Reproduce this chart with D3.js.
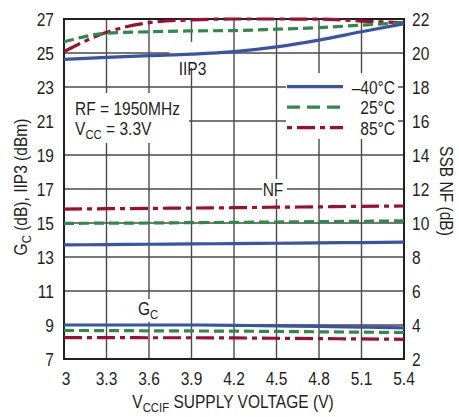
<!DOCTYPE html>
<html><head><meta charset="utf-8">
<script src="https://cdn.jsdelivr.net/npm/d3@7"></script>
<style>
html,body{margin:0;padding:0;background:#fff;}
svg{display:block;}
text{font-family:"Liberation Sans",Arial,sans-serif;fill:#231f20;}
</style></head>
<body>
<svg id="c" width="459" height="417"></svg>
<script>
// ---- data ----
const voltages = [3, 3.3, 3.6, 3.9, 4.2, 4.5, 4.8, 5.1, 5.4];
const xTickLabels = ["3", "3.3", "3.6", "3.9", "4.2", "4.5", "4.8", "5.1", "5.4"];
const leftTicks = [7, 9, 11, 13, 15, 17, 19, 21, 23, 25, 27];
const rightTicks = [2, 4, 6, 8, 10, 12, 14, 16, 18, 20, 22];
const temps = ["\u201340\u00b0C", "25\u00b0C", "85\u00b0C"];
// IIP3 (dBm), left axis
const iip3_m40 = [24.63, 24.74, 24.84, 24.93, 25.08, 25.36, 25.76, 26.25, 26.72];
const iip3_25  = [25.66, 26.16, 26.25, 26.3, 26.32, 26.4, 26.49, 26.64, 26.78];
const iip3_85  = [25.08, 26.22, 26.78, 26.95, 27.0, 27.0, 26.99, 26.88, 26.78];
// SSB NF (dB), right axis
const nf_m40 = [8.71, 8.73, 8.75, 8.77, 8.79, 8.81, 8.83, 8.85, 8.87];
const nf_25  = [9.98, 9.99, 10.0, 10.02, 10.04, 10.06, 10.08, 10.1, 10.13];
const nf_85  = [10.82, 10.84, 10.86, 10.88, 10.9, 10.93, 10.95, 10.98, 11.0];
// Gc (dB), left axis
const gc_m40 = [9.0, 9.0, 9.0, 9.0, 8.98, 8.95, 8.92, 8.88, 8.83];
const gc_25  = [8.68, 8.67, 8.66, 8.65, 8.64, 8.62, 8.6, 8.58, 8.56];
const gc_85  = [8.26, 8.26, 8.25, 8.25, 8.24, 8.22, 8.2, 8.18, 8.16];

const colors = ["#3a53a4", "#2f8a47", "#9b0f2f"];
const dashes = [null, "10,5", "18,5,5,5"];
const legendDashes = [null, "13,7", "5,5,18,5"];

const svg = d3.select("#c");
const L = 64, T = 19, W = 340, H = 340;
const x = d3.scaleLinear().domain([3, 5.4]).range([L, L + W]);
const yL = d3.scaleLinear().domain([7, 27]).range([T + H, T]);
const yR = d3.scaleLinear().domain([2, 22]).range([T + H, T]);
const SX = 0.84, fs = 18.5, subFs = 13.5;

// condensed text helper
function txt(px, py, anchor, rot) {
  return svg.append("text")
    .attr("transform", `translate(${px},${py})` + (rot ? ` rotate(${rot})` : "") + ` scale(${SX},1)`)
    .attr("text-anchor", anchor || "start").attr("font-size", fs);
}

svg.append("rect").attr("width", 459).attr("height", 417).attr("fill", "#fff");

// grid
const grid = svg.append("g").attr("stroke", "#4a4a4a").attr("stroke-width", 1.4);
grid.selectAll("line.v").data(voltages).join("line")
  .attr("x1", d => x(d)).attr("x2", d => x(d)).attr("y1", T).attr("y2", T + H);
grid.selectAll("line.h").data(leftTicks).join("line")
  .attr("y1", d => yL(d)).attr("y2", d => yL(d)).attr("x1", L).attr("x2", L + W);

// frame
svg.append("rect").attr("x", L).attr("y", T).attr("width", W).attr("height", H)
  .attr("fill", "none").attr("stroke", "#231f20").attr("stroke-width", 2);

// white label boxes (cover grid)
const boxes = [
  [L + 1, 93, 124, 50],               // RF box
  [x(3.9) - 22, yL(25.6) - 1, 44, 26], // IIP3 label
  [286, 73, 112, 66],                 // legend
  [262, yL(17) - 10, 25, 20],         // NF label
  [x(3.6) - 14, yL(11) + 8, 30, 23]   // Gc label
];
svg.append("g").selectAll("rect").data(boxes).join("rect")
  .attr("x", d => d[0]).attr("y", d => d[1]).attr("width", d => d[2]).attr("height", d => d[3])
  .attr("fill", "#fff");

// data lines
svg.append("clipPath").attr("id", "pc").append("rect")
  .attr("x", L).attr("y", T - 2).attr("width", W).attr("height", H + 4);
const lineL = d3.line().x((d, i) => x(voltages[i])).y(d => yL(d)).curve(d3.curveMonotoneX);
const lineR = d3.line().x((d, i) => x(voltages[i])).y(d => yR(d)).curve(d3.curveMonotoneX);
const series = [
  [gc_85, 2, lineL], [gc_25, 1, lineL], [gc_m40, 0, lineL],
  [nf_85, 2, lineR], [nf_25, 1, lineR], [nf_m40, 0, lineR],
  [iip3_85, 2, lineL], [iip3_25, 1, lineL], [iip3_m40, 0, lineL]
];
const lg = svg.append("g").attr("clip-path", "url(#pc)");
series.forEach(s => {
  lg.append("path").attr("d", s[2](s[0])).attr("fill", "none")
    .attr("stroke", colors[s[1]]).attr("stroke-width", 3.2)
    .attr("stroke-dasharray", dashes[s[1]]);
});

// tick labels
leftTicks.forEach(d => txt(L - 10, yL(d) + 7, "end").text(d));
rightTicks.forEach(d => txt(L + W + 8, yR(d) + 7, "start").text(d));
voltages.forEach((d, i) => txt(x(d) + (i === 0 ? 2 : 0), T + H + 26, "middle").text(xTickLabels[i]));

// x title
const xt = txt(233, 408, "middle");
xt.append("tspan").text("V");
xt.append("tspan").attr("font-size", subFs).attr("dy", 4).text("CCIF");
xt.append("tspan").attr("dy", -4).text(" SUPPLY VOLTAGE (V)");

// left title
const yt = txt(27, 187, "middle", -90);
yt.append("tspan").text("G");
yt.append("tspan").attr("font-size", subFs).attr("dy", 4).text("C");
yt.append("tspan").attr("dy", -4).text(" (dB), IIP3 (dBm)");

// right title
txt(440, 191, "middle", 90).text("SSB NF (dB)");

// annotations
txt(75, 115, "start").text("RF = 1950MHz");
const vc = txt(75, 135, "start");
vc.append("tspan").text("V");
vc.append("tspan").attr("font-size", subFs).attr("dy", 4).text("CC");
vc.append("tspan").attr("dy", -4).text(" = 3.3V");

txt(x(3.9) + 1, yL(23) - 12, "middle").text("IIP3");
txt(273, yL(17) + 7, "middle").text("NF");
const gcl = txt(138, yL(11) + 24, "start");
gcl.append("tspan").text("G");
gcl.append("tspan").attr("font-size", subFs).attr("dy", 4).text("C");

// legend
const legY = [86.7, 107.2, 127.7];
temps.forEach((t, i) => {
  svg.append("line").attr("x1", 287).attr("x2", 343).attr("y1", legY[i]).attr("y2", legY[i])
    .attr("stroke", colors[i]).attr("stroke-width", 3.2).attr("stroke-dasharray", legendDashes[i]);
  txt(395, legY[i] + 7, "end").text(t);
});
</script>
</body></html>
